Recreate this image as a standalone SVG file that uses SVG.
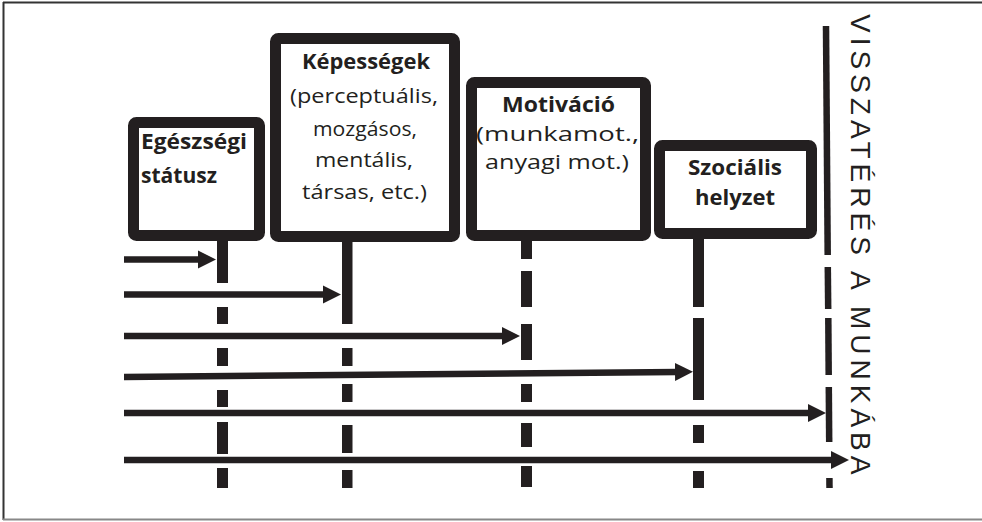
<svg xmlns="http://www.w3.org/2000/svg" width="982" height="522" viewBox="0 0 982 522">
<style>
.box{fill:#fff;stroke:#231f20;stroke-width:11;stroke-linejoin:round}
.t{font-family:"Open Sans","DejaVu Sans",sans-serif;font-size:20.5px;fill:#231f20}
.b{font-weight:bold}
.stem{fill:#231f20}
.arr{stroke:#231f20;stroke-width:6.5;fill:none;marker-end:url(#ah)}
.side{font-family:"Liberation Sans",Arial,sans-serif;font-size:28px;fill:#231f20;letter-spacing:5px}
</style>
<defs>
<marker id="ah" markerUnits="userSpaceOnUse" markerWidth="20" markerHeight="20" refX="3" refY="9" orient="auto" viewBox="0 0 20 18">
<path d="M0,0 L18,9 L0,18 Z" fill="#231f20"/>
</marker>
</defs>
<rect width="982" height="522" fill="#fff"/>
<g id="frame">
<line x1="3" y1="2.5" x2="982" y2="2.5" stroke="#333" stroke-width="2"/>
<line x1="3.5" y1="2" x2="3.5" y2="520" stroke="#333" stroke-width="2"/>
<line x1="3" y1="519.5" x2="982" y2="519.5" stroke="#888" stroke-width="2"/>
</g>
<g id="connectors">
<g id="stems">
<rect class="stem" x="217" y="236" width="11" height="47"/>
<rect class="stem" x="217" y="307" width="11" height="17"/>
<rect class="stem" x="217" y="348" width="11" height="18"/>
<rect class="stem" x="217" y="390" width="11" height="17"/>
<rect class="stem" x="217" y="422" width="11" height="32"/>
<rect class="stem" x="217" y="468" width="11" height="20"/>
<rect class="stem" x="342" y="237" width="10.5" height="87"/>
<rect class="stem" x="342" y="348" width="10.5" height="18"/>
<rect class="stem" x="342" y="384" width="10.5" height="18"/>
<rect class="stem" x="342" y="425" width="10.5" height="28"/>
<rect class="stem" x="342" y="470" width="10.5" height="18"/>
<rect class="stem" x="521" y="236" width="11" height="23"/>
<rect class="stem" x="521" y="271" width="11" height="36"/>
<rect class="stem" x="521" y="324" width="11" height="36"/>
<rect class="stem" x="521" y="384" width="11" height="18"/>
<rect class="stem" x="521" y="423" width="11" height="24"/>
<rect class="stem" x="521" y="466" width="11" height="21"/>
<rect class="stem" x="693" y="234" width="11" height="73"/>
<rect class="stem" x="693" y="318" width="11" height="82"/>
<rect class="stem" x="693" y="425" width="11" height="18"/>
<rect class="stem" x="693" y="471" width="11" height="17"/>
<g stroke="#231f20" stroke-width="6.5">
<line x1="826" y1="26" x2="827.7" y2="255"/>
<line x1="827.8" y1="267" x2="828.2" y2="309"/>
<line x1="828.3" y1="318" x2="828.7" y2="375"/>
<line x1="828.8" y1="387" x2="829.2" y2="442"/>
<line x1="829.4" y1="478" x2="829.5" y2="488"/>
</g>
</g>
<g id="arrows">
<line class="arr" x1="124" y1="259.5" x2="201" y2="259.5"/>
<line class="arr" x1="124" y1="294.5" x2="326" y2="294.5"/>
<line class="arr" x1="124" y1="336" x2="505" y2="336"/>
<line class="arr" x1="124" y1="377" x2="678" y2="371.9"/>
<line class="arr" x1="124" y1="413" x2="811" y2="413"/>
<line class="arr" x1="124" y1="460" x2="834" y2="460"/>
</g>
</g>
<g id="node-egeszsegi">
<rect class="box" x="133.5" y="122.5" width="126" height="113" rx="3"/>
<text class="t b" x="141" y="149" textLength="106" lengthAdjust="spacingAndGlyphs">Egészségi</text>
<text class="t b" x="141" y="183" textLength="76" lengthAdjust="spacingAndGlyphs">státusz</text>
</g>
<g id="node-kepessegek">
<rect class="box" x="275.5" y="38.5" width="179" height="198" rx="3"/>
<text class="t b" x="302" y="69" textLength="128" lengthAdjust="spacingAndGlyphs">Képességek</text>
<text class="t" x="290" y="103" textLength="148" lengthAdjust="spacingAndGlyphs">(perceptuális,</text>
<text class="t" x="313" y="136" textLength="104" lengthAdjust="spacingAndGlyphs">mozgásos,</text>
<text class="t" x="315" y="167" textLength="98" lengthAdjust="spacingAndGlyphs">mentális,</text>
<text class="t" x="302" y="199" textLength="125" lengthAdjust="spacingAndGlyphs">társas, etc.)</text>
</g>
<g id="node-motivacio">
<rect class="box" x="471.5" y="82.5" width="174" height="153" rx="3"/>
<text class="t b" x="502" y="112" textLength="113" lengthAdjust="spacingAndGlyphs">Motiváció</text>
<text class="t" x="476" y="141" textLength="163" lengthAdjust="spacingAndGlyphs">(munkamot.,</text>
<text class="t" x="485" y="169" textLength="144" lengthAdjust="spacingAndGlyphs">anyagi mot.)</text>
</g>
<g id="node-szocialis">
<rect class="box" x="659.5" y="145.5" width="152" height="88" rx="3"/>
<text class="t b" x="688" y="175" textLength="94" lengthAdjust="spacingAndGlyphs">Szociális</text>
<text class="t b" x="695" y="205" textLength="80" lengthAdjust="spacingAndGlyphs">helyzet</text>
</g>
<g id="node-visszateres">
<text class="side" transform="translate(851,14) rotate(90)" x="0" y="0">VISSZATÉRÉS A MUNKÁBA</text>
</g>
</svg>
